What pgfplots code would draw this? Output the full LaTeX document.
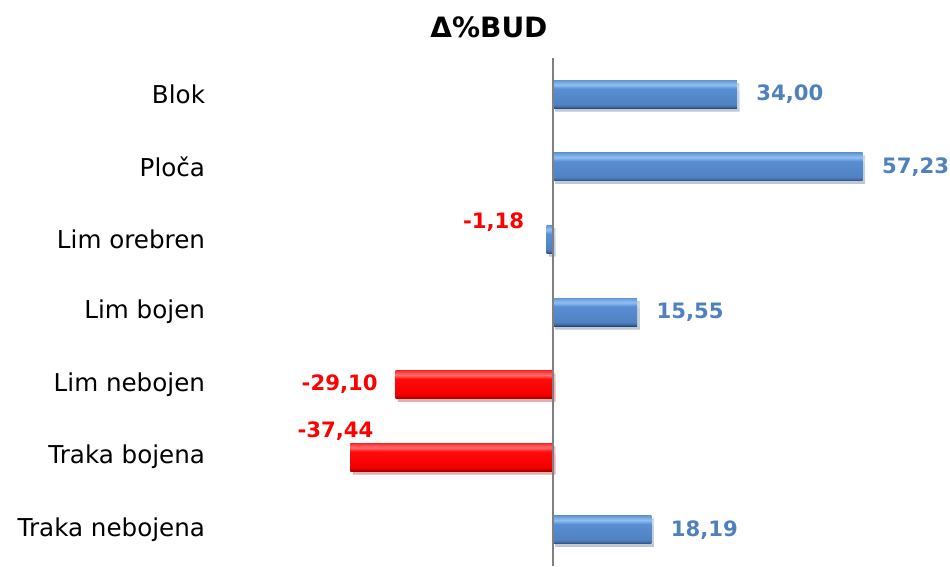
\documentclass[border=0pt]{standalone}
\usepackage{pgfplots}
\pgfplotsset{compat=1.18}
\usepackage{fontspec}
\setmainfont{DejaVu Sans}
\usetikzlibrary{shadows}

\definecolor{labblue}{RGB}{79,129,189}

% bevel-like vertical shadings (path spans 25bp..75bp)
\pgfdeclareverticalshading{bluebevel}{100bp}{
  color(0bp)=(rgb,255:red,40;green,72;blue,115);
  color(25bp)=(rgb,255:red,40;green,72;blue,115);
  color(28bp)=(rgb,255:red,66;green,108;blue,165);
  color(32bp)=(rgb,255:red,80;green,130;blue,195);
  color(60bp)=(rgb,255:red,88;green,142;blue,210);
  color(67bp)=(rgb,255:red,145;green,192;blue,242);
  color(72bp)=(rgb,255:red,118;green,168;blue,225);
  color(75bp)=(rgb,255:red,100;green,150;blue,212);
  color(100bp)=(rgb,255:red,100;green,150;blue,212)}
\pgfdeclareverticalshading{redbevel}{100bp}{
  color(0bp)=(rgb,255:red,160;green,0;blue,0);
  color(25bp)=(rgb,255:red,160;green,0;blue,0);
  color(28bp)=(rgb,255:red,205;green,0;blue,0);
  color(32bp)=(rgb,255:red,245;green,0;blue,0);
  color(60bp)=(rgb,255:red,255;green,10;blue,10);
  color(67bp)=(rgb,255:red,255;green,110;blue,110);
  color(72bp)=(rgb,255:red,255;green,70;blue,70);
  color(75bp)=(rgb,255:red,250;green,40;blue,40);
  color(100bp)=(rgb,255:red,250;green,40;blue,40)}

\pgfplotsset{
  bluebar/.style={draw=none, shade, shading=bluebevel,
    drop shadow={shadow xshift=1.2pt, shadow yshift=-1.5pt, opacity=0.22}},
  redbar/.style={draw=none, shade, shading=redbevel,
    drop shadow={shadow xshift=1.2pt, shadow yshift=-1.5pt, opacity=0.22}},
  poslabel/.style={every node near coord/.append style={anchor=west, xshift=9.5pt, text=labblue}},
}

\begin{document}
\begin{tikzpicture}
\begin{axis}[
    xbar, bar width=14pt, bar shift=0pt,
    scale only axis, width=351.65pt, height=254pt,
    xmin=-60, xmax=70, ymin=0.5, ymax=7.5, y dir=reverse,
    ytick={1,...,7},
    yticklabels={Blok, Ploča, Lim orebren, Lim bojen, Lim nebojen, Traka bojena, Traka nebojena},
    xtick=\empty,
    axis line style={draw=none},
    major tick length=0pt,
    yticklabel style={font=\fontsize{12.3}{14}\selectfont, anchor=east, inner sep=0pt, xshift=-11.5pt},
    title={Δ\%BUD},
    title style={font=\bfseries\fontsize{14}{16}\selectfont, at={(0.3705,1)}, anchor=center, yshift=9.5pt},
    clip=false,
    nodes near coords,
    every node near coord/.append style={font=\bfseries\fontsize{10.6}{12}\selectfont, inner sep=0pt},
    /pgf/number format/.cd, fixed, fixed zerofill, precision=2, use comma, assume math mode=true,
  ]
  \addplot[bluebar, poslabel] coordinates {(34.00,1)};
  \addplot[bluebar, poslabel] coordinates {(57.23,2)};
  \addplot[bluebar, every node near coord/.append style={anchor=center, xshift=-26.5pt, yshift=8.7pt, text=red}]
    coordinates {(-1.18,3)};
  \addplot[bluebar, poslabel] coordinates {(15.55,4)};
  \addplot[redbar, every node near coord/.append style={anchor=east, xshift=-8.8pt, text=red}]
    coordinates {(-29.10,5)};
  \addplot[redbar, every node near coord/.append style={anchor=center, xshift=-7.5pt, yshift=13pt, text=red}]
    coordinates {(-37.44,6)};
  \addplot[bluebar, poslabel] coordinates {(18.19,7)};
  \draw[color=gray, line width=0.75pt] (axis cs:0,0.5) -- (axis cs:0,7.5);
\end{axis}
\pgfresetboundingbox
\path[use as bounding box] ([shift={(-114.2pt,0pt)}]current axis.south west) rectangle ([shift={(9.15pt,29pt)}]current axis.north east);
\end{tikzpicture}
\end{document}
